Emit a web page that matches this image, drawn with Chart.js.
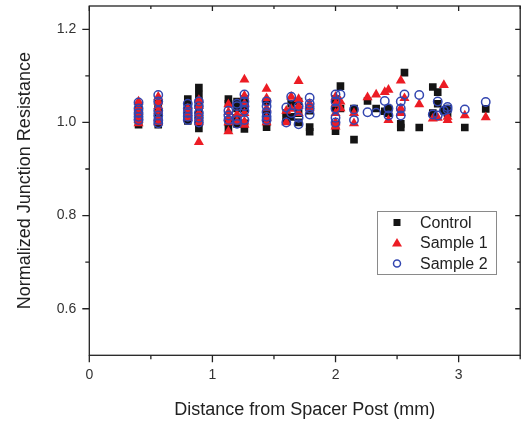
<!DOCTYPE html>
<html>
<head>
<meta charset="utf-8">
<script src="https://cdn.jsdelivr.net/npm/chart.js@4/dist/chart.umd.min.js"></script>
<style>
    html, body { margin: 0; background: #fff; }
    #wrap { width: 521px; height: 424px; overflow: hidden; }
</style>
</head>
<body>
<div id="wrap"><canvas id="chart" width="526" height="424"></canvas></div>
<script>
// distance columns (mm)
const distances = [0.40, 0.56, 0.80, 0.89, 1.13, 1.20, 1.26, 1.44, 1.60, 1.64, 1.70, 1.79, 2.00, 2.04,
    2.15, 2.26, 2.33, 2.40, 2.43, 2.53, 2.56, 2.68, 2.79, 2.83, 2.88, 2.91, 3.05, 3.22];

// normalized resistance per column, one list for each distance above
const controlValues = [
    [0.995, 1.003, 1.012, 1.022, 1.032], [0.995, 1.005, 1.015, 1.028, 1.04], [1.003, 1.013, 1.025, 1.038, 1.05],
    [0.987, 1.0, 1.015, 1.03, 1.045, 1.06, 1.075], [0.987, 1.0, 1.04, 1.05], [0.997, 1.01, 1.03, 1.045],
    [0.986, 0.998, 1.03, 1.05], [0.99, 1.0, 1.02, 1.045], [1.003, 1.012, 1.02], [1.012, 1.04], [1.0, 1.02, 1.045],
    [0.98, 0.99, 1.025], [0.981, 0.995, 1.03, 1.05], [1.03, 1.078], [0.963, 1.03], [1.046], [1.03], [1.024],
    [1.02, 1.03], [0.989, 0.997], [1.107], [0.989], [1.02, 1.076], [1.04, 1.065], [1.025], [1.02, 1.03], [0.989], [1.029]
];
const sample1Values = [
    [0.998, 1.005, 1.012, 1.022, 1.032, 1.045], [1.0, 1.01, 1.025, 1.035, 1.045, 1.055], [1.01, 1.02, 1.03],
    [0.958, 1.0, 1.01, 1.02, 1.035, 1.048], [0.981, 1.0, 1.01, 1.022, 1.039], [1.002, 1.017],
    [0.995, 1.002, 1.02, 1.04, 1.057, 1.092], [1.0, 1.01, 1.03, 1.052, 1.072], [1.0, 1.025], [1.029, 1.055],
    [1.02, 1.035, 1.05, 1.089], [1.03, 1.04], [0.991, 1.0, 1.02, 1.04, 1.055], [1.03, 1.045], [0.998, 1.02],
    [1.054], [1.06], [1.065], [1.005, 1.07], [1.02, 1.03, 1.09], [1.052], [1.039], [1.008], [1.01], [1.08],
    [1.005, 1.012], [1.015], [1.011]
];
const sample2Values = [
    [1.005, 1.012, 1.02, 1.03, 1.043], [0.998, 1.005, 1.015, 1.025, 1.045, 1.059], [1.005, 1.012, 1.02, 1.03, 1.04],
    [1.0, 1.01, 1.02, 1.035, 1.045], [1.005, 1.015, 1.025], [0.997, 1.005, 1.035, 1.04],
    [1.005, 1.025, 1.035, 1.045, 1.06], [1.005, 1.012, 1.022, 1.035, 1.045], [1.0, 1.032], [1.02, 1.055],
    [0.996, 1.01, 1.035], [1.017, 1.03, 1.04, 1.053], [1.0, 1.01, 1.03, 1.045, 1.06], [1.06], [1.005, 1.028],
    [1.022], [1.021], [1.046], [1.015, 1.03], [1.015, 1.03, 1.045], [1.06], [1.059], [1.017], [1.015, 1.045],
    [1.025], [1.028, 1.033], [1.028], [1.044]
];

// axis ticks
const xMajorTicks = [0, 1, 2, 3];
const xMinorTicks = [0.5, 1.5, 2.5, 3.5];
const yMajorTicks = [0.6, 0.8, 1.0, 1.2];
const yMinorTicks = [0.7, 0.9, 1.1];

const FONT = '"Liberation Sans", Arial, sans-serif';

function toPoints(values) {
    const pts = [];
    values.forEach((col, i) => col.forEach(v => pts.push({ x: distances[i], y: v })));
    return pts;
}

// frame with ticks on all four sides
const framePlugin = {
    id: 'frame',
    afterDatasetsDraw(chart) {
        const { ctx, chartArea: a, scales: { x, y } } = chart;
        ctx.save();
        ctx.strokeStyle = '#222';
        ctx.lineWidth = 1.3;
        ctx.strokeRect(a.left, a.top, a.right - a.left, a.bottom - a.top);
        ctx.beginPath();
        const xt = (v, out, inn) => {
            const px = x.getPixelForValue(v);
            ctx.moveTo(px, a.bottom); ctx.lineTo(px, a.bottom + out);
            ctx.moveTo(px, a.top); ctx.lineTo(px, a.top + inn);
        };
        const yt = (v, out, inn) => {
            const py = y.getPixelForValue(v);
            ctx.moveTo(a.left, py); ctx.lineTo(a.left - out, py);
            ctx.moveTo(a.right, py); ctx.lineTo(a.right - inn, py);
        };
        xMajorTicks.forEach(v => xt(v, 7, 5));
        xMinorTicks.forEach(v => xt(v, 4, 3));
        yMajorTicks.forEach(v => yt(v, 7, 5));
        yMinorTicks.forEach(v => yt(v, 4, 3));
        ctx.stroke();
        ctx.restore();
    }
};

// boxed legend inside the plot
const legendPlugin = {
    id: 'boxLegend',
    afterDraw(chart) {
        const ctx = chart.ctx;
        ctx.save();
        ctx.strokeStyle = '#8a8a8a';
        ctx.lineWidth = 1;
        ctx.strokeRect(377.5, 211.5, 119, 63);
        ctx.font = '16px ' + FONT;
        ctx.textBaseline = 'middle';
        const mx = 397;
        chart.data.datasets.forEach((ds, i) => {
            const cy = 222.5 + i * 20.5;
            ctx.beginPath();
            if (ds.pointStyle === 'rect') {
                ctx.fillStyle = ds.backgroundColor;
                ctx.fillRect(mx - 3.5, cy - 3.5, 7, 7);
            } else if (ds.pointStyle === 'triangle') {
                ctx.fillStyle = ds.backgroundColor;
                ctx.moveTo(mx, cy - 5); ctx.lineTo(mx + 5, cy + 3.5); ctx.lineTo(mx - 5, cy + 3.5);
                ctx.closePath(); ctx.fill();
            } else {
                ctx.strokeStyle = ds.borderColor;
                ctx.lineWidth = 1.5;
                ctx.arc(mx, cy, 3.5, 0, Math.PI * 2);
                ctx.stroke();
            }
            ctx.fillStyle = '#222';
            ctx.fillText(ds.label, 420, cy + 1);
        });
        ctx.restore();
    }
};

function noPad(s) {
    s.paddingLeft = 0; s.paddingRight = 0; s.paddingTop = 0; s.paddingBottom = 0;
}

new Chart(document.getElementById('chart'), {
    type: 'scatter',
    data: {
        datasets: [{
            label: 'Control',
            data: toPoints(controlValues),
            pointStyle: 'rect',
            pointRadius: 5.4,
            backgroundColor: '#141414',
            borderColor: '#141414',
            borderWidth: 0,
            order: 3
        }, {
            label: 'Sample 1',
            data: toPoints(sample1Values),
            pointStyle: 'triangle',
            pointRadius: 5.8,
            backgroundColor: '#ec1c24',
            borderColor: '#ec1c24',
            borderWidth: 0,
            order: 2
        }, {
            label: 'Sample 2',
            data: toPoints(sample2Values),
            pointStyle: 'circle',
            pointRadius: 4.2,
            backgroundColor: 'rgba(0,0,0,0)',
            borderColor: '#3346b0',
            borderWidth: 1.5,
            order: 1
        }]
    },
    options: {
        responsive: false,
        animation: false,
        events: [],
        layout: { padding: { top: 6, right: 2.3, left: 0, bottom: 0 } },
        plugins: { legend: { display: false }, tooltip: { enabled: false } },
        scales: {
            x: {
                type: 'linear',
                min: 0, max: 3.5,
                grid: { display: false },
                border: { display: false },
                afterFit: s => { s.height = 68.7; noPad(s); },
                ticks: {
                    stepSize: 0.5,
                    autoSkip: false,
                    maxRotation: 0,
                    padding: 3,
                    color: '#333',
                    font: { family: FONT, size: 14 },
                    callback: v => Number.isInteger(v) ? String(v) : ''
                },
                title: {
                    display: true,
                    text: 'Distance from Spacer Post (mm)',
                    color: '#222',
                    font: { family: FONT, size: 18 },
                    padding: { top: 0, bottom: 3 }
                }
            },
            y: {
                min: 0.5, max: 1.25,
                grid: { display: false },
                border: { display: false },
                afterFit: s => { s.width = 89.3; noPad(s); },
                ticks: {
                    stepSize: 0.1,
                    autoSkip: false,
                    padding: 5,
                    color: '#333',
                    font: { family: FONT, size: 14 },
                    callback: v => {
                        const t = Math.round(v * 10);
                        return (t % 2 === 0 && t >= 6 && t <= 12) ? (t / 10).toFixed(1) : '';
                    }
                },
                title: {
                    display: true,
                    text: 'Normalized Junction Resistance',
                    color: '#222',
                    font: { family: FONT, size: 18 },
                    padding: { top: 14, bottom: 0 }
                }
            }
        }
    },
    plugins: [framePlugin, legendPlugin]
});
</script>
</body>
</html>
